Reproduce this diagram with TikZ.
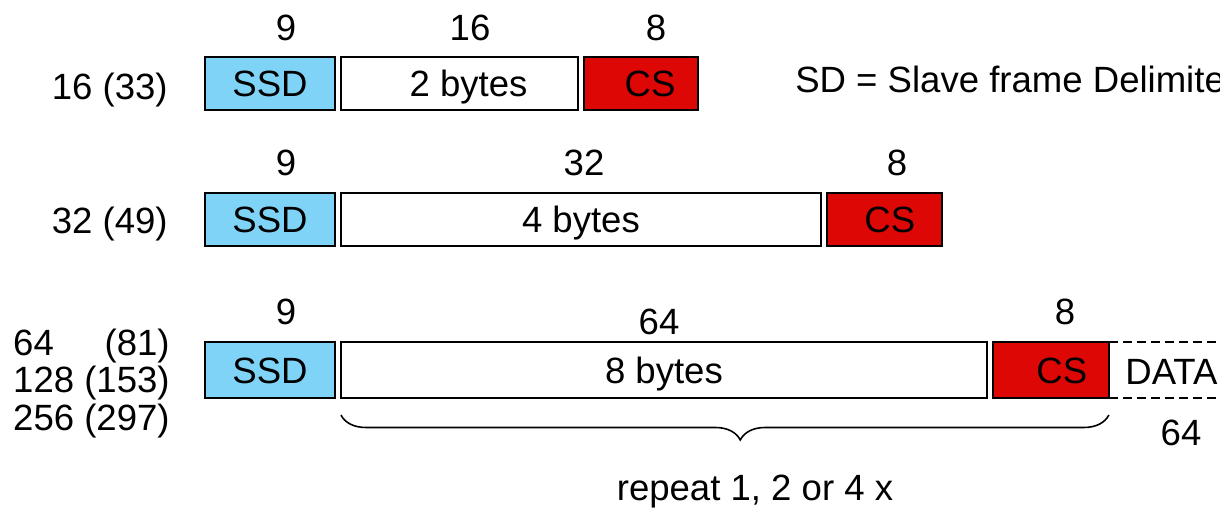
\documentclass[tikz,border=0pt]{standalone}
\usepackage{fontspec}
\setmainfont{Liberation Sans}
\usepackage{xcolor}
\usetikzlibrary{positioning,decorations.pathreplacing}
\definecolor{ssdblue}{RGB}{126,211,246}
\definecolor{csred}{RGB}{221,8,6}
\tikzset{
  field/.style={draw=black,line width=1.1pt,outer sep=0pt,inner sep=0pt,minimum height=1.06cm,
    text height=18.7pt,text depth=3.8pt},
  ssd/.style={field,fill=ssdblue,minimum width=2.6cm},
  payload/.style={field,fill=white},
  cs/.style={field,fill=csred},
  lbl/.style={inner sep=0pt}
}
\begin{document}
\begin{tikzpicture}[x=0.02cm,y=-0.02cm,every node/.style={font=\fontsize{20.8}{20.4}\selectfont}]
\useasboundingbox (0,0) rectangle (1220,508);
\clip (0,0) rectangle (1220,508);

\node[ssd,anchor=north west] (ssdA) at (205,57) {SSD};
\node[payload,minimum width=4.74cm,right=0.12cm of ssdA] (bytesA) {\hspace{0.5em}2 bytes};
\node[cs,minimum width=2.28cm,right=0.12cm of bytesA] (csA) {\hspace{0.5em}CS};
\node[lbl] (wA1) at (286,28) {9};
\node[lbl] (wA2) at (470,28) {16};
\node[lbl] (wA3) at (656,28) {8};
\node[lbl,anchor=base east] (lenA) at (168,99) {16 (33)};
\node[lbl,anchor=base west] (note) at (795,92) {SD = Slave frame Delimiter};

\node[ssd,anchor=north west] (ssdB) at (205,193) {SSD};
\node[payload,minimum width=9.6cm,right=0.12cm of ssdB] (bytesB) {4 bytes};
\node[cs,minimum width=2.3cm,right=0.12cm of bytesB] (csB) {\hspace{0.3em}CS};
\node[lbl] (wB1) at (286,163) {9};
\node[lbl] (wB2) at (584,163) {32};
\node[lbl] (wB3) at (897,163) {8};
\node[lbl,anchor=base east] (lenB) at (168,233) {32 (49)};

\node[ssd,minimum height=1.12cm,anchor=north west] (ssdC) at (205,342) {SSD};
\node[payload,minimum height=1.12cm,minimum width=12.92cm,right=0.12cm of ssdC] (bytesC) {8 bytes};
\node[cs,minimum height=1.12cm,minimum width=2.32cm,right=0.12cm of bytesC] (csC) {\hspace{0.6em}CS};
\node[lbl] (wC1) at (286,312) {9};
\node[lbl] (wC2) at (659,322) {64};
\node[lbl] (wC3) at (1065,312) {8};
\node[lbl,anchor=east] (lenC) at (170,385) {\begin{tabular}{@{}l@{ }r@{}}64&(81)\\128&(153)\\256&(297)\end{tabular}};

\draw[line width=0.9pt,dash pattern=on 5pt off 3pt] (csC.north east) -- ++(160,0);
\draw[line width=0.9pt,dash pattern=on 5pt off 3pt] (csC.south east) -- ++(160,0);
\node[lbl,anchor=west] (data) at (1125,372) {DATA};
\node[lbl] (wData) at (1181,433) {64};

\draw[line width=0.9pt,decorate,decoration={brace,mirror,amplitude=0.5cm,aspect=0.52}]
  ([yshift=-0.34cm]bytesC.south west) -- ([yshift=-0.34cm]csC.south east);
\node[lbl] (rep) at (755,492) {repeat 1, 2 or 4 x};
\end{tikzpicture}
\end{document}
